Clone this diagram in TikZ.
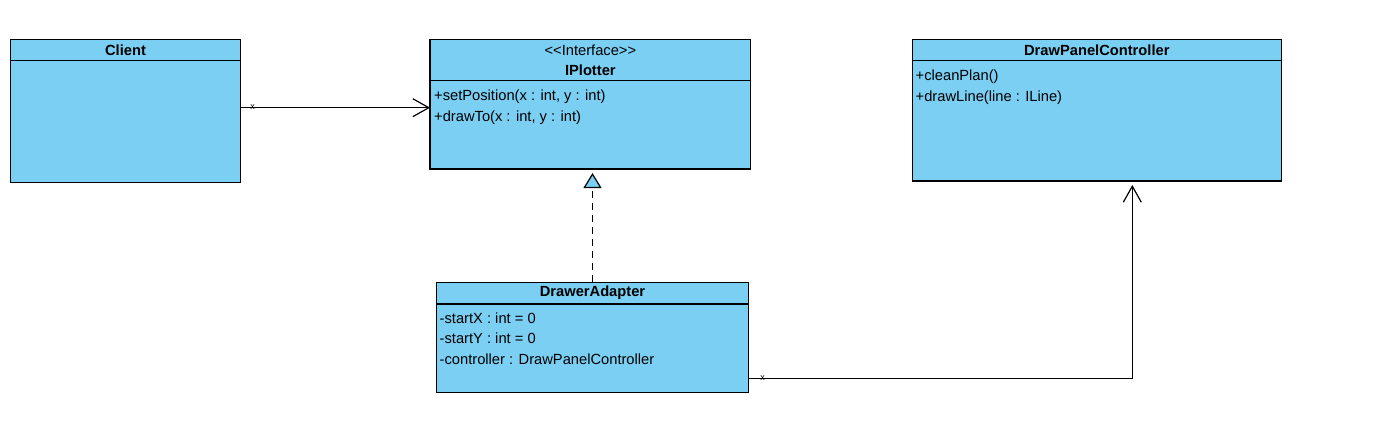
\documentclass[tikz,border=0pt]{standalone}
\usepackage{fontspec}
\setmainfont{Liberation Sans}
\usetikzlibrary{arrows.meta}
\definecolor{umlblue}{RGB}{122,207,243}
\begin{document}
\begin{tikzpicture}[x=1pt,y=-1pt,
  box/.style={draw=black, fill=umlblue, line width=1.2pt, anchor=north west, inner sep=0pt, outer sep=0pt},
  title/.style={font=\fontsize{14.7}{20}\selectfont\bfseries},
  member/.style={anchor=base west, inner sep=0pt, font=\fontsize{14.7}{20}\selectfont},
  mult/.style={inner sep=0pt, font=\fontsize{9}{9}\selectfont},
  assoc/.style={line width=1.2pt, -{Straight Barb[length=16pt,width=18pt,line width=1.2pt]}},
  realize/.style={line width=1.2pt, dash pattern=on 7pt off 5pt, -{Triangle[length=15pt,width=18pt,fill=umlblue,line width=1.2pt]}}
]
\useasboundingbox (0,0) rectangle (1377,442);

% Client
\node[box, minimum width=229.6pt, minimum height=121.4pt] (clientB) at (10.7,60.7) {};
\node[box, minimum width=229.6pt, minimum height=21.4pt, title] (clientH) at (10.7,39.3) {Client};

% IPlotter
\node[box, minimum width=320.7pt, minimum height=88.3pt] (ipB) at (430,80.7) {};
\node[box, minimum width=320.7pt, minimum height=41.4pt, align=center, font=\fontsize{14.7}{20}\selectfont] (ipH) at (430,39.3)
  {<\kern0pt<Interface>\kern0pt>\\\textbf{IPlotter}};
\node[member] (ipM1) at (434,100.5) {+setPosition(x : int, y : int)};
\node[member] (ipM2) at (434,121) {+drawTo(x : int, y : int)};

% DrawPanelController
\node[box, minimum width=369pt, minimum height=120.3pt] (dpcB) at (912.3,60.7) {};
\node[box, minimum width=369pt, minimum height=21.4pt, title] (dpcH) at (912.3,39.3) {DrawPanelController};
\node[member] (dpcM1) at (915.5,80.5) {+cleanPlan()};
\node[member] (dpcM2) at (915.5,101) {+drawLine(line : ILine)};

% DrawerAdapter
\node[box, minimum width=311.6pt, minimum height=88.3pt] (adB) at (436.7,304) {};
\node[box, minimum width=311.6pt, minimum height=21.7pt, title] (adH) at (436.7,282.3) {DrawerAdapter};
\node[member] (adM1) at (439.5,323) {-startX : int = 0};
\node[member] (adM2) at (439.5,343.5) {-startY : int = 0};
\node[member] (adM3) at (439.5,364) {-controller : DrawPanelController};

% connectors
\coordinate (c1) at (240.3,107.7);
\draw[assoc] (c1) -- (ipB.west |- c1);
\node[mult] (x1) at (252.7,107) {x};

\draw[realize] (adH.north) -- ([yshift=-4pt]adH.north |- ipB.south);

\coordinate (c2) at (1132.3,378.3);
\draw[assoc, shorten >=4pt] (adB.east |- c2) -- (c2) -- (c2 |- dpcB.south);
\node[mult] (x2) at (762.7,377.8) {x};
\end{tikzpicture}
\end{document}
